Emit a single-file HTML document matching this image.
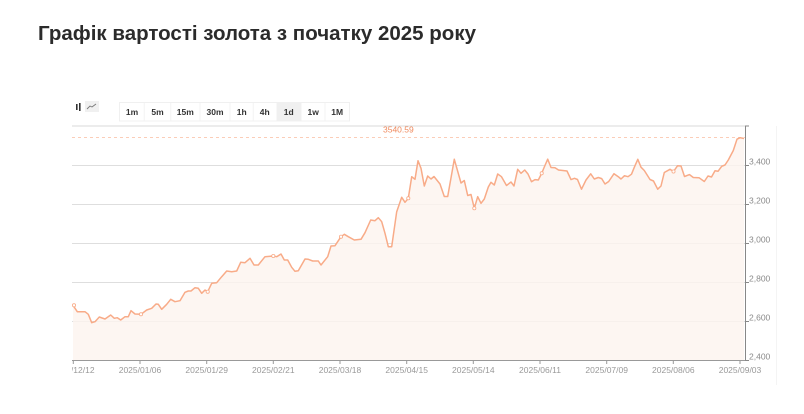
<!DOCTYPE html>
<html><head><meta charset="utf-8">
<style>
html,body{margin:0;padding:0;background:#fff;}
body{width:804px;height:414px;overflow:hidden;}
svg{display:block;}
</style></head>
<body>
<svg width="804" height="414" viewBox="0 0 804 414" xmlns="http://www.w3.org/2000/svg">
<rect width="804" height="414" fill="#fff"/>
<text x="38" y="40" font-family="Liberation Sans, sans-serif" font-weight="bold" font-size="20" fill="#2b2b2b" textLength="438" lengthAdjust="spacingAndGlyphs">Графік вартості золота з початку 2025 року</text>

<!-- toolbar icons -->
<rect x="76" y="104" width="1.6" height="6" fill="#333"/>
<rect x="79" y="103" width="1.6" height="8" fill="#333"/>
<rect x="85" y="101" width="14" height="11" fill="#f0f0f0"/>
<polyline points="87,109 90,106 92,107 96,104" fill="none" stroke="#777" stroke-width="0.9"/>

<!-- buttons -->
<g font-family="Liberation Sans, sans-serif" font-weight="bold" font-size="8.5" fill="#333" text-anchor="middle">
<rect x="119.5" y="102.5" width="230" height="18.5" fill="#fff" stroke="#f0f0f0"/>
<rect x="276.5" y="102.5" width="25" height="18.5" fill="#f0f0f0"/>
<line x1="144.3" y1="103" x2="144.3" y2="121" stroke="#f3f3f3"/>
<line x1="170.7" y1="103" x2="170.7" y2="121" stroke="#f3f3f3"/>
<line x1="200" y1="103" x2="200" y2="121" stroke="#f3f3f3"/>
<line x1="230" y1="103" x2="230" y2="121" stroke="#f3f3f3"/>
<line x1="253.3" y1="103" x2="253.3" y2="121" stroke="#f3f3f3"/>
<line x1="325" y1="103" x2="325" y2="121" stroke="#f3f3f3"/>
<text x="132" y="115">1m</text>
<text x="157.5" y="115">5m</text>
<text x="185.3" y="115">15m</text>
<text x="215" y="115">30m</text>
<text x="241.7" y="115">1h</text>
<text x="264.7" y="115">4h</text>
<text x="288.7" y="115">1d</text>
<text x="313.2" y="115">1w</text>
<text x="337.2" y="115">1M</text>
</g>

<!-- right panel edge -->
<line x1="776.5" y1="126" x2="776.5" y2="385" stroke="#f4f4f4"/>

<!-- grid -->
<line x1="72" y1="126" x2="745" y2="126" stroke="#d9d9d9"/>
<g stroke="#dedede" stroke-width="1">
<line x1="72" y1="165.5" x2="745" y2="165.5"/>
<line x1="72" y1="204.5" x2="745" y2="204.5"/>
<line x1="72" y1="243.5" x2="745" y2="243.5"/>
<line x1="72" y1="282.5" x2="745" y2="282.5"/>
<line x1="72" y1="321.5" x2="745" y2="321.5"/>
</g>

<!-- area fill -->
<path fill="#fdf4ef" fill-opacity="0.8" d="M73,305.3 L77.3,311.7 L85,311.7 L88.3,314.3 L91.7,322.7 L95,321.7 L99.3,317 L105,319 L110.7,315 L114.3,318.3 L117.3,317.7 L120.7,320 L125,316.7 L128.3,316.7 L131,310.7 L135,314 L141,314.3 L146.7,310 L151.7,308.3 L156,304 L158.3,304.3 L161.7,309.3 L166.7,304.3 L170.7,299.3 L175,301.7 L180,300.7 L185,292.3 L188.3,291 L191,291 L195,287.7 L198.3,288.3 L201.7,293.3 L205,290 L207.7,291.7 L211.7,283.3 L216.7,282.7 L221.7,276.7 L226.7,271 L231.7,271.7 L236.7,271 L240.7,262.3 L245,262.7 L250,258.3 L254,265 L258.3,265 L265,256.7 L273.3,256 L276.7,256.7 L281,254 L284.3,260 L287.7,260 L291.7,267.3 L295,271.3 L298.3,270.7 L305,259 L308.3,259.3 L312.7,261 L318.3,261 L321,265 L327.7,256.7 L331,246 L335,245.7 L341,236.7 L344.3,234.3 L348.3,236.7 L354.3,240 L361,239.3 L365,232.7 L370.7,220 L375,220.7 L378.3,217.7 L381.7,221.7 L385,233.3 L388.3,246.7 L391.7,246.7 L396.7,211.7 L401.7,197.3 L405,202.3 L408.3,198.3 L411.7,176.7 L415,179.3 L418,160.7 L421,168.3 L424.3,186 L427.7,176 L431,179 L434,176.5 L440,184 L444.3,196.5 L447.7,196.5 L454.3,159.3 L461,183 L464.3,180.5 L467.7,195.5 L471,194.5 L474.3,208.3 L477.7,196.7 L481,203.3 L484.3,199 L488.3,187 L491,182.3 L494.3,185 L497.7,174 L501.5,176.7 L506.5,185.5 L511,182 L514,186 L517.7,169.3 L521,173.3 L524.7,170 L528,174 L531.5,181.7 L535,179.6 L538.3,180 L541.7,173.3 L544.3,167 L547.7,159.2 L551,167.5 L555,167.7 L558.5,170 L567,171 L571,179.6 L574.5,178.3 L577.5,179.5 L581.5,189.2 L586,180 L590.7,173.8 L594.3,179 L598.3,177.5 L601.7,178.6 L605,184 L608.7,181.5 L614,173.7 L618.3,176.7 L621,179 L624.5,175.7 L628,176.7 L631.5,174.2 L634.3,167.3 L637.8,159.3 L641,167.2 L644.3,170.5 L650,179.5 L653.5,181 L657.7,189.2 L661,186 L664.3,172.5 L670,169.3 L673.5,171.5 L677.5,165.8 L681,166 L684.5,176.5 L689.5,174.6 L693.3,177.5 L699,177.7 L704.3,181.5 L708,176 L711.5,177 L715,170.8 L718,171.3 L721.7,166.3 L725,165 L728.3,160 L733.3,150.5 L737,139.2 L740,137.7 L744,138.5 L744,360.5 L73,360.5 Z"/>

<!-- dashed last price line -->
<line x1="72" y1="137.5" x2="745" y2="137.5" stroke="#fbcdb8" stroke-width="1" stroke-dasharray="3,3"/>
<text x="383" y="132.5" font-family="Liberation Sans, sans-serif" font-size="8.5" fill="#ef8a5e">3540.59</text>

<!-- series line -->
<polyline fill="none" stroke="#f8ab88" stroke-width="1.5" stroke-linejoin="round" points="73,305.3 77.3,311.7 85,311.7 88.3,314.3 91.7,322.7 95,321.7 99.3,317 105,319 110.7,315 114.3,318.3 117.3,317.7 120.7,320 125,316.7 128.3,316.7 131,310.7 135,314 141,314.3 146.7,310 151.7,308.3 156,304 158.3,304.3 161.7,309.3 166.7,304.3 170.7,299.3 175,301.7 180,300.7 185,292.3 188.3,291 191,291 195,287.7 198.3,288.3 201.7,293.3 205,290 207.7,291.7 211.7,283.3 216.7,282.7 221.7,276.7 226.7,271 231.7,271.7 236.7,271 240.7,262.3 245,262.7 250,258.3 254,265 258.3,265 265,256.7 273.3,256 276.7,256.7 281,254 284.3,260 287.7,260 291.7,267.3 295,271.3 298.3,270.7 305,259 308.3,259.3 312.7,261 318.3,261 321,265 327.7,256.7 331,246 335,245.7 341,236.7 344.3,234.3 348.3,236.7 354.3,240 361,239.3 365,232.7 370.7,220 375,220.7 378.3,217.7 381.7,221.7 385,233.3 388.3,246.7 391.7,246.7 396.7,211.7 401.7,197.3 405,202.3 408.3,198.3 411.7,176.7 415,179.3 418,160.7 421,168.3 424.3,186 427.7,176 431,179 434,176.5 440,184 444.3,196.5 447.7,196.5 454.3,159.3 461,183 464.3,180.5 467.7,195.5 471,194.5 474.3,208.3 477.7,196.7 481,203.3 484.3,199 488.3,187 491,182.3 494.3,185 497.7,174 501.5,176.7 506.5,185.5 511,182 514,186 517.7,169.3 521,173.3 524.7,170 528,174 531.5,181.7 535,179.6 538.3,180 541.7,173.3 544.3,167 547.7,159.2 551,167.5 555,167.7 558.5,170 567,171 571,179.6 574.5,178.3 577.5,179.5 581.5,189.2 586,180 590.7,173.8 594.3,179 598.3,177.5 601.7,178.6 605,184 608.7,181.5 614,173.7 618.3,176.7 621,179 624.5,175.7 628,176.7 631.5,174.2 634.3,167.3 637.8,159.3 641,167.2 644.3,170.5 650,179.5 653.5,181 657.7,189.2 661,186 664.3,172.5 670,169.3 673.5,171.5 677.5,165.8 681,166 684.5,176.5 689.5,174.6 693.3,177.5 699,177.7 704.3,181.5 708,176 711.5,177 715,170.8 718,171.3 721.7,166.3 725,165 728.3,160 733.3,150.5 737,139.2 740,137.7 744,138.5"/>
<g fill="#fff" stroke="#f8ab88" stroke-width="0.8">
<circle cx="74" cy="305.3" r="1.6"/>
<circle cx="141" cy="314.3" r="1.6"/>
<circle cx="207.7" cy="291.7" r="1.6"/>
<circle cx="273.3" cy="256" r="1.6"/>
<circle cx="341" cy="236.7" r="1.6"/>
<circle cx="408.3" cy="198.3" r="1.6"/>
<circle cx="474.3" cy="208.3" r="1.6"/>
<circle cx="541.7" cy="173.3" r="1.6"/>
<circle cx="673.5" cy="171.5" r="1.6"/>
</g>

<!-- axes -->
<line x1="72" y1="360.5" x2="745" y2="360.5" stroke="#999"/>
<line x1="745.5" y1="126" x2="745.5" y2="361" stroke="#888"/>
<g stroke="#888">
<line x1="745" y1="126" x2="749" y2="126"/>
<line x1="745" y1="165.5" x2="749" y2="165.5"/>
<line x1="745" y1="204.5" x2="749" y2="204.5"/>
<line x1="745" y1="243.5" x2="749" y2="243.5"/>
<line x1="745" y1="282.5" x2="749" y2="282.5"/>
<line x1="745" y1="321.5" x2="749" y2="321.5"/>
<line x1="745" y1="360.5" x2="749" y2="360.5"/>
</g>
<g stroke="#999">
<line x1="73.3" y1="360" x2="73.3" y2="364"/>
<line x1="140" y1="360" x2="140" y2="364"/>
<line x1="206.7" y1="360" x2="206.7" y2="364"/>
<line x1="273.3" y1="360" x2="273.3" y2="364"/>
<line x1="340" y1="360" x2="340" y2="364"/>
<line x1="406.7" y1="360" x2="406.7" y2="364"/>
<line x1="473.3" y1="360" x2="473.3" y2="364"/>
<line x1="540" y1="360" x2="540" y2="364"/>
<line x1="606.7" y1="360" x2="606.7" y2="364"/>
<line x1="673.3" y1="360" x2="673.3" y2="364"/>
<line x1="740" y1="360" x2="740" y2="364"/>
</g>

<g font-family="Liberation Sans, sans-serif" font-size="8.5" fill="#8a8a8a">
<text x="749" y="164.5">3,400</text>
<text x="749" y="203.5">3,200</text>
<text x="749" y="242.5">3,000</text>
<text x="749" y="281.5">2,800</text>
<text x="749" y="320.5">2,600</text>
<text x="749" y="359.5">2,400</text>
</g>

<clipPath id="cl"><rect x="72" y="362" width="732" height="20"/></clipPath>
<g font-family="Liberation Sans, sans-serif" font-size="8.5" fill="#999" text-anchor="middle" clip-path="url(#cl)">
<text x="73.3" y="373">2024/12/12</text>
<text x="140" y="373">2025/01/06</text>
<text x="206.7" y="373">2025/01/29</text>
<text x="273.3" y="373">2025/02/21</text>
<text x="340" y="373">2025/03/18</text>
<text x="406.7" y="373">2025/04/15</text>
<text x="473.3" y="373">2025/05/14</text>
<text x="540" y="373">2025/06/11</text>
<text x="606.7" y="373">2025/07/09</text>
<text x="673.3" y="373">2025/08/06</text>
<text x="740" y="373">2025/09/03</text>
</g>
</svg>
</body></html>
